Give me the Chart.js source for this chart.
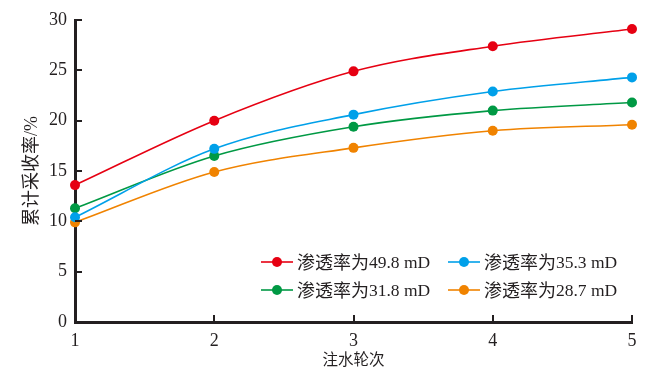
<!DOCTYPE html>
<html lang="zh">
<head>
    <meta charset="UTF-8">
    <title>累计采收率</title>
    <script src="https://cdn.jsdelivr.net/npm/chart.js"></script>
    <style>
        html, body { margin: 0; padding: 0; background: #fff; }
        #wrap { width: 670px; height: 378px; }
    </style>
</head>
<body>
    <div id="wrap"><canvas id="recoveryChart" width="670" height="378"></canvas></div>
    <script>
        // data
        const rounds = [1, 2, 3, 4, 5];
        const seriesPrefix = '渗透率为';
        const seriesPerm = ['49.8 mD', '35.3 mD', '31.8 mD', '28.7 mD'];
        const perm498 = [13.6, 20.0, 24.9, 27.4, 29.1];
        const perm353 = [10.4, 17.2, 20.6, 22.9, 24.3];
        const perm318 = [11.3, 16.5, 19.4, 21.0, 21.8];
        const perm287 = [9.9, 14.9, 17.3, 19.0, 19.6];
        const yTicks = [0, 5, 10, 15, 20, 25, 30];

        const colors = ['#e60012', '#00a0e9', '#009944', '#f08300'];
        const axisColor = '#231f20';
        const serif = "'Liberation Serif', 'Times New Roman', serif";
        const cjk = "'Liberation Serif', 'Noto Sans CJK SC', serif";

        function makeSet(i, values) {
            return {
                label: seriesPrefix + seriesPerm[i],
                data: rounds.map((r, k) => ({ x: r, y: values[k] })),
                borderColor: colors[i],
                backgroundColor: colors[i],
                borderWidth: 1.6,
                pointRadius: 5,
                pointBorderWidth: 0,
                cubicInterpolationMode: 'monotone',
                clip: false
            };
        }

        // inward tick marks + legend inside the plot
        const extras = {
            id: 'extras',
            afterDraw(chart) {
                const ctx = chart.ctx;
                const xs = chart.scales.x, ys = chart.scales.y;
                const area = chart.chartArea;
                ctx.save();
                ctx.strokeStyle = axisColor;
                ctx.lineWidth = 2;
                ctx.beginPath();
                rounds.slice(1).forEach(r => {
                    const px = Math.round(xs.getPixelForValue(r));
                    ctx.moveTo(px, area.bottom);
                    ctx.lineTo(px, area.bottom - 7);
                });
                yTicks.slice(1).forEach(v => {
                    const py = Math.round(ys.getPixelForValue(v));
                    ctx.moveTo(area.left, py);
                    ctx.lineTo(area.left + 7, py);
                });
                ctx.stroke();

                // legend, two columns
                const cols = [261, 448];
                const rows = [262, 290];
                ctx.textBaseline = 'middle';
                ctx.textAlign = 'left';
                seriesPerm.forEach((perm, i) => {
                    const lx = cols[i % 2], ly = rows[Math.floor(i / 2)];
                    ctx.strokeStyle = colors[i];
                    ctx.lineWidth = 1.6;
                    ctx.beginPath();
                    ctx.moveTo(lx, ly);
                    ctx.lineTo(lx + 32, ly);
                    ctx.stroke();
                    ctx.fillStyle = colors[i];
                    ctx.beginPath();
                    ctx.arc(lx + 16, ly, 5, 0, Math.PI * 2);
                    ctx.fill();
                    ctx.fillStyle = axisColor;
                    ctx.font = "18px 'Noto Sans CJK SC'";
                    ctx.fillText(seriesPrefix, lx + 36, ly);
                    const w = ctx.measureText(seriesPrefix).width;
                    ctx.font = '17.5px ' + serif;
                    ctx.fillText(perm, lx + 36 + w, ly + 1);
                });
                ctx.restore();
            }
        };

        const ctx = document.getElementById('recoveryChart').getContext('2d');
        new Chart(ctx, {
            type: 'line',
            data: {
                datasets: [
                    makeSet(0, perm498),
                    makeSet(1, perm353),
                    makeSet(2, perm318),
                    makeSet(3, perm287)
                ]
            },
            options: {
                responsive: false,
                animation: false,
                devicePixelRatio: 1,
                layout: { padding: { top: 20, right: 38, left: 0, bottom: 0 } },
                plugins: { legend: { display: false }, tooltip: { enabled: false } },
                scales: {
                    x: {
                        type: 'linear',
                        min: 1,
                        max: 5,
                        afterBuildTicks(scale) { scale.ticks = rounds.map(v => ({ value: v })); },
                        afterFit(scale) { scale.height = 56; },
                        grid: { display: false, drawTicks: false },
                        border: { display: true, width: 3, color: axisColor },
                        ticks: { color: axisColor, padding: 8, font: { family: serif, size: 18 } },
                        title: {
                            display: true,
                            text: '注水轮次',
                            color: axisColor,
                            font: { family: cjk, size: 15.5 },
                            padding: { top: 0, bottom: 8 }
                        }
                    },
                    y: {
                        min: 0,
                        max: 30,
                        afterBuildTicks(scale) { scale.ticks = yTicks.map(v => ({ value: v })); },
                        afterFit(scale) { scale.width = 75; },
                        grid: { display: false, drawTicks: false },
                        border: { display: true, width: 3, color: axisColor },
                        ticks: { color: axisColor, padding: 8, font: { family: serif, size: 18 } },
                        title: {
                            display: true,
                            text: '累计采收率/%',
                            color: axisColor,
                            font: { family: cjk, size: 18 },
                            padding: { top: 21, bottom: 0 }
                        }
                    }
                }
            },
            plugins: [extras]
        });
    </script>
</body>
</html>
